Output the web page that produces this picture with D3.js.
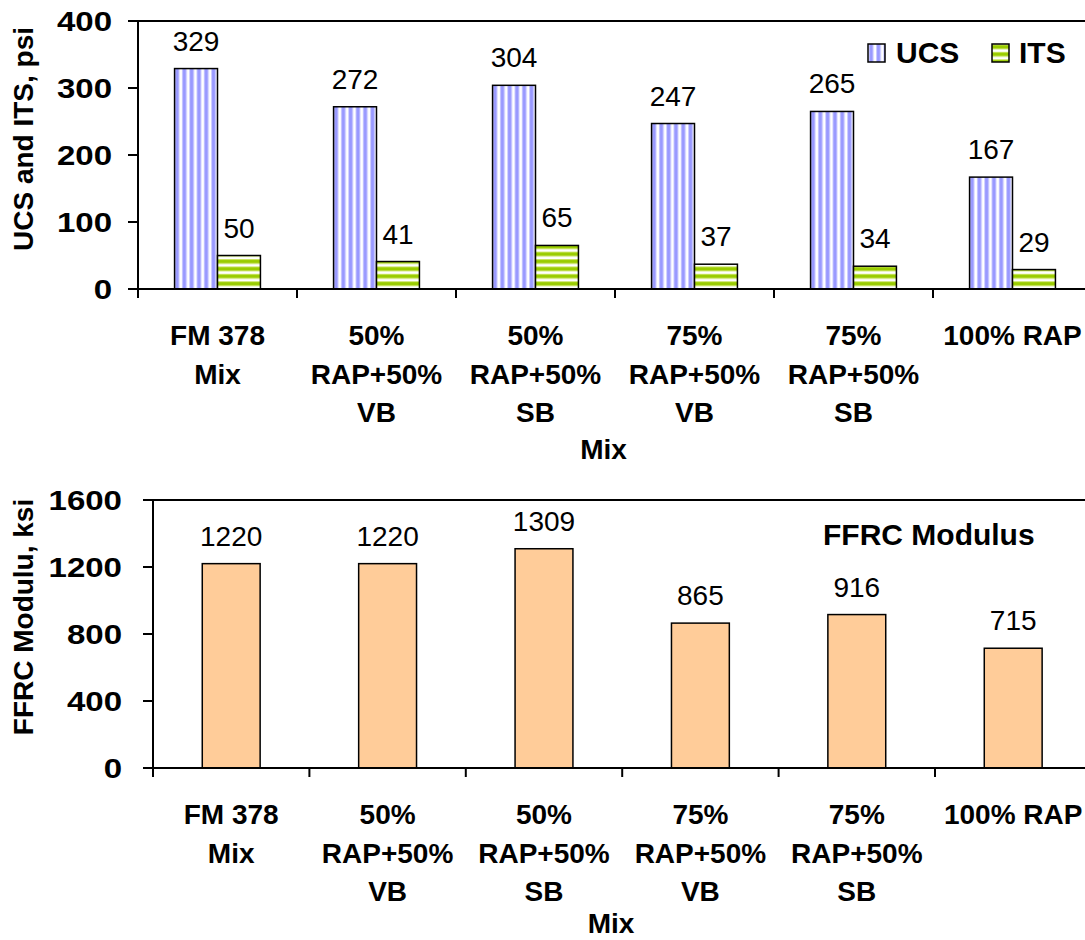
<!DOCTYPE html>
<html lang="en">
<head>
  <meta charset="UTF-8">
  <title>UCS ITS FFRC</title>
  <style>
    html, body { margin: 0; padding: 0; background: #fff; }
    svg { display: block; font-family: "Liberation Sans", Arial, sans-serif; }
    .tickLabel { font-size: 28px; font-weight: bold; text-anchor: end; }
    .catLabel { font-size: 28px; font-weight: bold; text-anchor: middle; }
    .axisTitle { font-size: 28px; font-weight: bold; text-anchor: middle; }
    .valueDes { font-size: 28px; text-anchor: middle; }
    .legendText { font-size: 30px; font-weight: bold; }
    .axisLine { stroke: #000; stroke-width: 2; }
  </style>
  <script src="https://cdn.jsdelivr.net/npm/d3@7"></script>
</head>
<body>
<script>
  // ---------- data ----------
  const categories = [
    ['FM 378', 'Mix'],
    ['50%', 'RAP+50%', 'VB'],
    ['50%', 'RAP+50%', 'SB'],
    ['75%', 'RAP+50%', 'VB'],
    ['75%', 'RAP+50%', 'SB'],
    ['100% RAP']
  ];
  const ucs = [329, 272, 304, 247, 265, 167];
  const its = [50, 41, 65, 37, 34, 29];
  const modulus = [1220, 1220, 1309, 865, 916, 715];
  const topTicks = [0, 100, 200, 300, 400];
  const bottomTicks = [0, 400, 800, 1200, 1600];
  const seriesNames = ['UCS', 'ITS'];

  const width = 1085;
  const height = 940;
  const catKeys = categories.map((d, i) => i);

  const svg = d3.select('body').append('svg')
    .attr('width', width)
    .attr('height', height);

  // ---------- patterns ----------
  const defs = svg.append('defs');
  const pU = defs.append('pattern')
    .attr('id', 'ucsPat').attr('patternUnits', 'userSpaceOnUse')
    .attr('width', 7.3).attr('height', 10);
  pU.append('rect').attr('width', 7.3).attr('height', 10).attr('fill', '#fff');
  pU.append('rect').attr('x', 0).attr('width', 5).attr('height', 10).attr('fill', '#ccccff');
  pU.append('rect').attr('x', 1).attr('width', 3).attr('height', 10).attr('fill', '#9999ff');

  const pI = defs.append('pattern')
    .attr('id', 'itsPat').attr('patternUnits', 'userSpaceOnUse')
    .attr('width', 10).attr('height', 7.4);
  pI.append('rect').attr('width', 10).attr('height', 7.4).attr('fill', '#fff');
  pI.append('rect').attr('y', 0).attr('width', 10).attr('height', 5).attr('fill', '#cce566');
  pI.append('rect').attr('y', 1).attr('width', 10).attr('height', 3).attr('fill', '#99cc00');

  // helper: frame + axes + category labels
  function drawFrame(g, x, y, ticks, left, top, bottom, labelGap, titleGap) {
    const right = left + x.step() * categories.length;
    // top border, y axis, x axis
    g.append('line').attr('class', 'axisLine')
      .attr('x1', left).attr('x2', right).attr('y1', top).attr('y2', top);
    g.append('line').attr('class', 'axisLine')
      .attr('x1', left).attr('x2', left).attr('y1', top - 1).attr('y2', bottom + 1);
    g.append('line').attr('class', 'axisLine')
      .attr('x1', left).attr('x2', right).attr('y1', bottom).attr('y2', bottom);
    // y ticks
    ticks.forEach(t => {
      g.append('line').attr('class', 'axisLine')
        .attr('x1', left - 10).attr('x2', left)
        .attr('y1', y(t)).attr('y2', y(t));
      g.append('text').attr('class', 'tickLabel')
        .attr('transform', `translate(${left - labelGap},${y(t)}) scale(1.18,1)`)
        .attr('dy', '0.36em')
        .text(t);
    });
    // category boundary ticks
    d3.range(categories.length + 1).forEach(i => {
      const xx = left + i * x.step();
      g.append('line').attr('class', 'axisLine')
        .attr('x1', xx).attr('x2', xx)
        .attr('y1', bottom).attr('y2', bottom + 9);
    });
    // category labels
    categories.forEach((lines, i) => {
      const t = g.append('text').attr('class', 'catLabel')
        .attr('x', x(i) + x.bandwidth() / 2)
        .attr('y', bottom + 56);
      lines.forEach((ln, j) => {
        t.append('tspan')
          .attr('x', x(i) + x.bandwidth() / 2)
          .attr('dy', j === 0 ? 0 : 38.5)
          .text(ln);
      });
    });
    g.append('text').attr('class', 'axisTitle')
      .attr('x', (left + Math.min(right, width)) / 2 - 8)
      .attr('y', bottom + titleGap)
      .text('Mix');
  }

  // ---------- top chart ----------
  const t = { left: 138, top: 21, bottom: 289, step: 159 };
  const xTop = d3.scaleBand().domain(catKeys)
    .range([t.left, t.left + t.step * categories.length]).padding(0);
  const yTop = d3.scaleLinear().domain([0, 400]).range([t.bottom, t.top]);
  const groupW = xTop.bandwidth() * 0.54;
  const xInner = d3.scaleBand().domain(seriesNames).range([0, groupW]);

  const gTop = svg.append('g');
  const topRows = categories.map((c, i) => ({ i, UCS: ucs[i], ITS: its[i] }));

  const grp = gTop.selectAll('.rectItem').data(topRows).enter()
    .append('g').attr('class', 'rectItem')
    .attr('transform', d => `translate(${xTop(d.i) + (xTop.bandwidth() - groupW) / 2},0)`);

  seriesNames.forEach(s => {
    grp.append('rect')
      .attr('x', xInner(s))
      .attr('width', xInner.bandwidth())
      .attr('y', d => yTop(d[s]))
      .attr('height', d => yTop(0) - yTop(d[s]))
      .attr('fill', s === 'UCS' ? 'url(#ucsPat)' : 'url(#itsPat)')
      .attr('stroke', '#000').attr('stroke-width', 1.5);
    grp.append('text').attr('class', 'valueDes')
      .attr('x', xInner(s) + xInner.bandwidth() / 2)
      .attr('y', d => yTop(d[s]) - 18)
      .text(d => d[s]);
  });

  drawFrame(gTop, xTop, yTop, topTicks, t.left, t.top, t.bottom, 26, 170);

  // legend
  const legendPos = [{ x: 868, tx: 896 }, { x: 992, tx: 1019 }];
  seriesNames.forEach((s, i) => {
    gTop.append('rect')
      .attr('x', legendPos[i].x).attr('y', 44)
      .attr('width', 17).attr('height', 18)
      .attr('fill', s === 'UCS' ? 'url(#ucsPat)' : 'url(#itsPat)')
      .attr('stroke', '#000').attr('stroke-width', 1.5);
    gTop.append('text').attr('class', 'legendText')
      .attr('x', legendPos[i].tx).attr('y', 63)
      .text(s);
  });

  gTop.append('text').attr('class', 'axisTitle')
    .attr('transform', 'translate(33,139) rotate(-90)')
    .text('UCS and ITS, psi');

  // ---------- bottom chart ----------
  const b = { left: 153, top: 500, bottom: 768, step: 156.4 };
  const xBot = d3.scaleBand().domain(catKeys)
    .range([b.left, b.left + b.step * categories.length]).padding(0);
  const yBot = d3.scaleLinear().domain([0, 1600]).range([b.bottom, b.top]);
  const barW = xBot.bandwidth() * 0.37;

  const gBot = svg.append('g');
  const botRows = modulus.map((v, i) => ({ i, v }));

  gBot.selectAll('.modBar').data(botRows).enter()
    .append('rect').attr('class', 'modBar')
    .attr('x', d => xBot(d.i) + (xBot.bandwidth() - barW) / 2)
    .attr('width', barW)
    .attr('y', d => yBot(d.v))
    .attr('height', d => yBot(0) - yBot(d.v))
    .attr('fill', '#ffcc99')
    .attr('stroke', '#000').attr('stroke-width', 1.5);

  gBot.selectAll('.modVal').data(botRows).enter()
    .append('text').attr('class', 'valueDes')
    .attr('x', d => xBot(d.i) + xBot.bandwidth() / 2)
    .attr('y', d => yBot(d.v) - 18)
    .text(d => d.v);

  drawFrame(gBot, xBot, yBot, bottomTicks, b.left, b.top, b.bottom, 31, 165);

  gBot.append('text').attr('class', 'legendText')
    .attr('x', 823).attr('y', 545)
    .text('FFRC Modulus');

  gBot.append('text').attr('class', 'axisTitle')
    .attr('transform', 'translate(33,617) rotate(-90)')
    .text('FFRC Modulu, ksi');
</script>
</body>
</html>
